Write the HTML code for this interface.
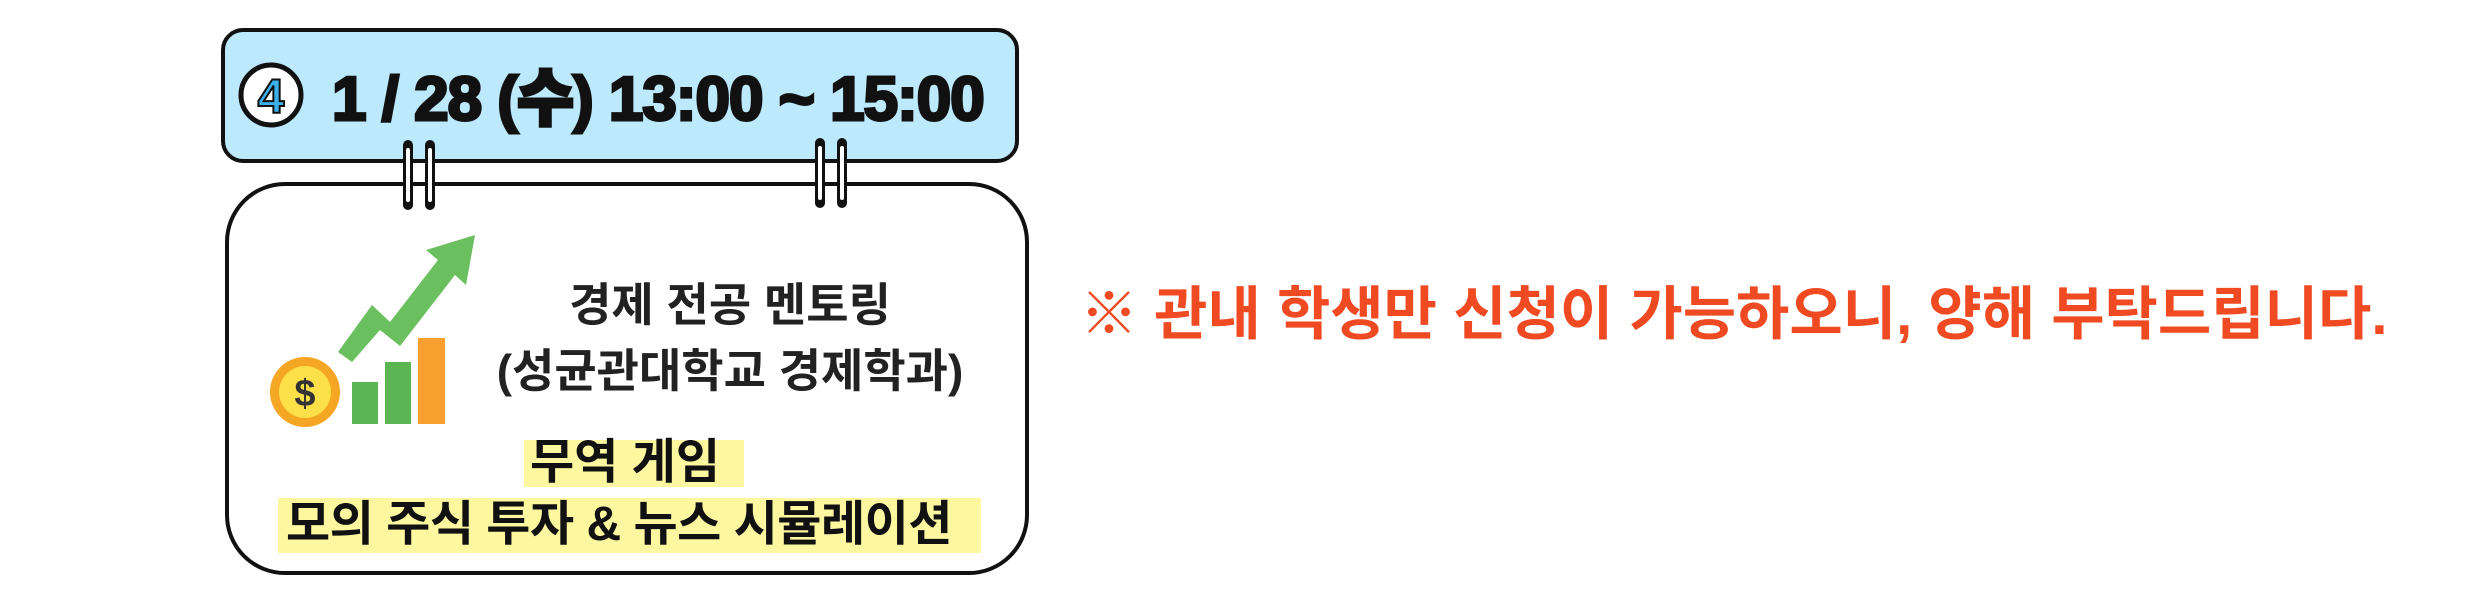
<!DOCTYPE html>
<html><head><meta charset="utf-8"><style>
body{margin:0;width:2480px;height:590px;background:#fff;position:relative;overflow:hidden;font-family:"Liberation Sans","Noto Sans CJK KR",sans-serif}
.a{position:absolute}
</style></head><body>
<div class="a" style="left:221px;top:28px;width:790px;height:127px;background:#bde9fc;border:4px solid #111;border-radius:22px"></div>
<div class="a" style="left:225px;top:182px;width:796px;height:385px;background:#fff;border:4px solid #111;border-radius:60px"></div>
<svg class="a" style="left:0;top:0" width="1100" height="590">
<g fill="none" stroke="#111" stroke-width="10" stroke-linecap="round">
<path d="M408 145 V205 M430 145 V205 M820 143 V203 M842 143 V203"/></g>
<g fill="none" stroke="#fff" stroke-width="4" stroke-linecap="round">
<path d="M408 150 V200 M430 150 V200 M820 148 V198 M842 148 V198"/></g>
<circle cx="271" cy="95" r="30" fill="#fff" stroke="#111" stroke-width="5"/>
<text x="271" y="113" text-anchor="middle" font-size="48" font-weight="bold" fill="#3bb0ec" stroke="#111" stroke-width="2" font-family="Liberation Sans">4</text>
<polygon points="338,352 372,305 390,322 438,260 426,250 475,235 466,285 455,275 400,346 380,330 352,362" fill="#6abf5e"/>
<rect x="352" y="382" width="26" height="42" fill="#5bb552"/>
<rect x="385" y="362" width="26" height="62" fill="#5bb552"/>
<rect x="418" y="338" width="27" height="86" fill="#f7a030"/>
<circle cx="305" cy="392" r="35" fill="#f5a623"/>
<circle cx="305" cy="392" r="26" fill="#fde047"/>
<text x="305" y="406" text-anchor="middle" font-size="38" font-weight="bold" fill="#333">$</text>
</svg>
<div class="a" style="left:332px;top:48px;font-size:62px;font-weight:900;color:#111;white-space:nowrap;letter-spacing:-1px;-webkit-text-stroke:3px #111">1 / 28 (수) 13:00 ~ 15:00</div>
<div class="a" style="left:430px;top:272px;width:600px;text-align:center;font-size:46px;font-weight:bold;line-height:66px;color:#222">경제 전공 멘토링<br>(성균관대학교 경제학과)</div>
<div class="a" style="left:524px;top:440px;width:220px;height:47px;background:#fdf8a0"></div>
<div class="a" style="left:530px;top:436px;font-size:48px;font-weight:bold;line-height:54px;color:#111">무역 게임</div>
<div class="a" style="left:278px;top:498px;width:703px;height:55px;background:#fdf8a0"></div>
<div class="a" style="left:286px;top:496px;font-size:48px;font-weight:bold;line-height:58px;color:#111;white-space:nowrap;letter-spacing:-0.5px">모의 주식 투자 &amp; 뉴스 시뮬레이션</div>
<div class="a" style="left:1080px;top:280px;font-size:58px;font-weight:bold;color:#f04a23;white-space:nowrap;line-height:70px">※ 관내 학생만 신청이 가능하오니, 양해 부탁드립니다.</div>
</body></html>
